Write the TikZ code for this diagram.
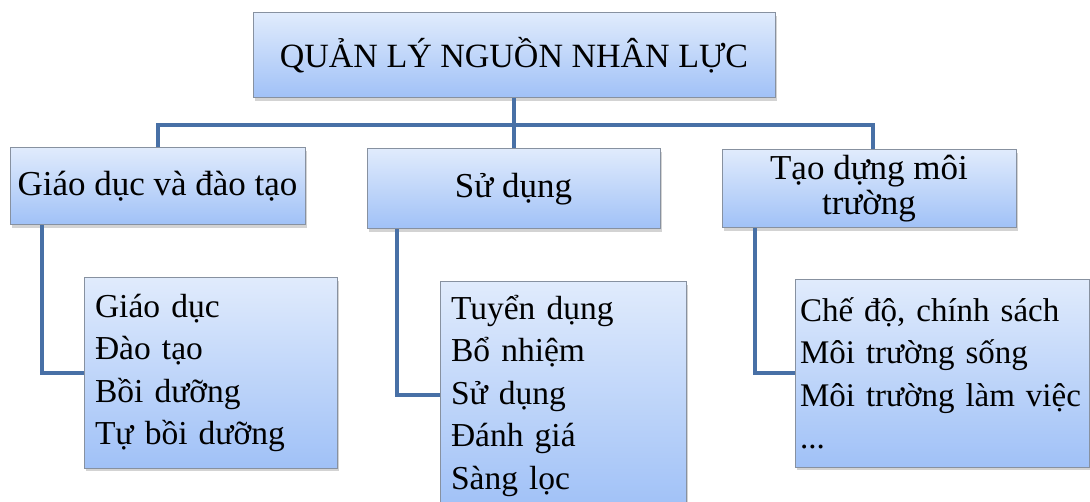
\documentclass[tikz,border=0pt]{standalone}
\usepackage{fontspec}
\setmainfont{Liberation Serif}
\usetikzlibrary{shadows}
\definecolor{boxtop}{RGB}{224,235,252}
\definecolor{boxbot}{RGB}{160,193,247}
\definecolor{boxedge}{RGB}{135,145,160}
\definecolor{linkc}{RGB}{72,112,166}
\tikzset{
 box/.style={draw=boxedge, line width=1pt, top color=boxtop, bottom color=boxbot,
   drop shadow={shadow xshift=2pt, shadow yshift=-3pt, opacity=0.35},
   inner sep=0pt, font=\fontsize{34}{34}\selectfont, align=center},
 midbox/.style={box, font=\fontsize{35}{35}\selectfont},
 listbox/.style={box, align=left, inner xsep=11pt, font=\fontsize{33.5}{42.5}\selectfont},
 link/.style={draw=linkc, line width=4pt}
}
\begin{document}
\begin{tikzpicture}[x=1pt,y=-1pt]
\useasboundingbox (0,0) rectangle (1090,502);
\node[box, minimum width=522pt, minimum height=85pt] (top) at (514,55.5) {QUẢN LÝ NGUỒN NHÂN LỰC};
\node[midbox, minimum width=295pt, minimum height=77pt] (b1) at (157.5,186.5) {Giáo dục và đào tạo};
\node[midbox, minimum width=293pt, minimum height=80pt] (b2) at (513.5,189) {Sử dụng};
\node[midbox, minimum width=294pt, minimum height=78pt] (b3) at (869,189) {Tạo dựng môi\\trường};
\node[listbox, text width=231pt, minimum height=190pt] (l1) at (210.5,373) {Giáo dục\\Đào tạo\\Bồi dưỡng\\Tự bồi dưỡng};
\node[listbox, text width=224pt, minimum height=227pt] (l2) at (563,395.5) {Tuyển dụng\\Bổ nhiệm\\Sử dụng\\Đánh giá\\Sàng lọc};
\node[listbox, inner xsep=5pt, text width=284pt, minimum height=187pt, font=\fontsize{33}{42.5}\selectfont] (l3) at (942,373.5) {Chế độ, chính sách\\Môi trường sống\\Môi trường làm việc\\...};
\coordinate (busL) at (158,125);
\coordinate (busR) at (873,125);
\coordinate (k1) at (42,0);
\coordinate (k2) at (397,0);
\coordinate (k3) at (755,0);
\draw[link] (top.south) -- (top.south |- b2.north);
\draw[link] (b1.north -| busL) -- (busL) -- (busR) -- (b3.north -| busR);
\draw[link] (b1.south -| k1) |- (l1.west);
\draw[link] (b2.south -| k2) |- (l2.west);
\draw[link] (b3.south -| k3) |- (l3.west);
\end{tikzpicture}
\end{document}
